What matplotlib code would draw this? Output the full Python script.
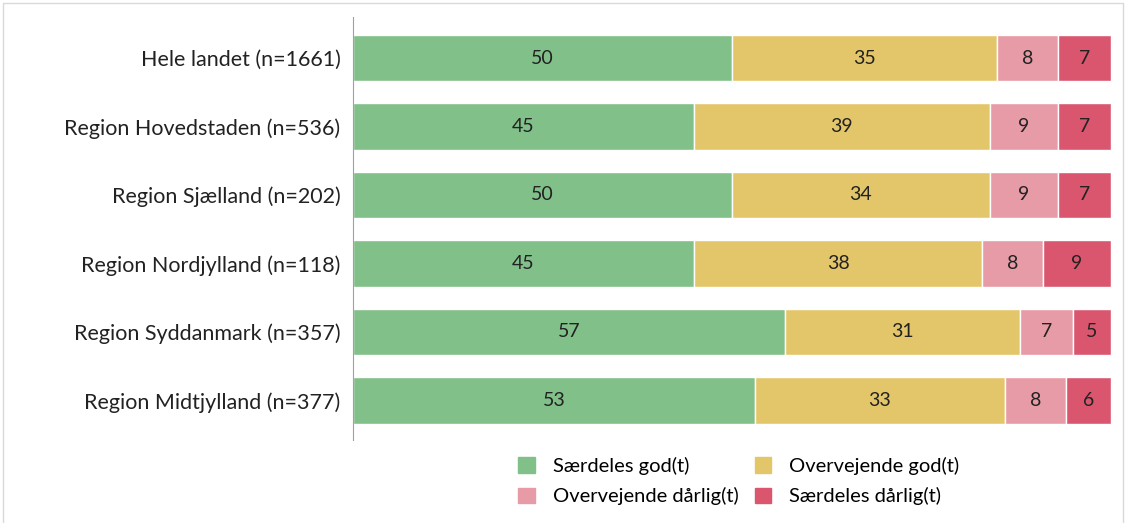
import matplotlib.pyplot as plt
from matplotlib.patches import Rectangle, Patch

plt.rcParams['font.family'] = ['Lato', 'DejaVu Sans']

regions = ["Hele landet (n=1661)", "Region Hovedstaden (n=536)", "Region Sjælland (n=202)",
           "Region Nordjylland (n=118)", "Region Syddanmark (n=357)", "Region Midtjylland (n=377)"]
saerdeles_god = [50, 45, 50, 45, 57, 53]
overvejende_god = [35, 39, 34, 38, 31, 33]
overvejende_daarlig = [8, 9, 9, 8, 7, 8]
saerdeles_daarlig = [7, 7, 7, 9, 5, 6]

series = [saerdeles_god, overvejende_god, overvejende_daarlig, saerdeles_daarlig]
names = ["Særdeles god(t)", "Overvejende god(t)", "Overvejende dårlig(t)", "Særdeles dårlig(t)"]
colors = ["#82C08A", "#E4C66A", "#E79BA6", "#D9566E"]

fig = plt.figure(figsize=(11.26, 5.23), dpi=100)
ax = fig.add_axes([0.3135, 0.1587, 0.6732, 0.8088])

left = [0] * len(regions)
y = list(range(len(regions)))
for vals, c in zip(series, colors):
    ax.barh(y, vals, left=left, height=0.68, color=c, edgecolor='white', linewidth=1)
    for i, v in enumerate(vals):
        ax.text(left[i] + v / 2, i, str(v), ha='center', va='center', fontsize=14, color='#222222')
    left = [l + v for l, v in zip(left, vals)]

ax.set_xlim(0, 100)
ax.set_ylim(5.58, -0.6)
ax.set_yticks(y)
ax.set_yticklabels(regions, fontsize=15.5, color='#222222')
ax.tick_params(axis='y', length=0, pad=9)
ax.set_xticks([])
for s in ['top', 'right', 'bottom']:
    ax.spines[s].set_visible(False)
ax.spines['left'].set_color('#A0A0A0')

# legend is filled column by column, so order the handles for row-wise reading
handles = [Patch(color=c, label=n) for c, n in zip(colors, names)]
handles = [handles[0], handles[2], handles[1], handles[3]]
fig.legend(handles=handles, ncol=2, loc='center', bbox_to_anchor=(0.656, 0.080), frameon=False,
           fontsize=14.5, handlelength=0.8, handleheight=0.8, columnspacing=0.8, labelspacing=0.62,
           handletextpad=0.9)

fig.patches.append(Rectangle((0.003, -0.01), 0.994, 1.004, transform=fig.transFigure,
                             fill=False, edgecolor='#D9D9D9', linewidth=1))

fig.savefig('out.png', dpi=100)
